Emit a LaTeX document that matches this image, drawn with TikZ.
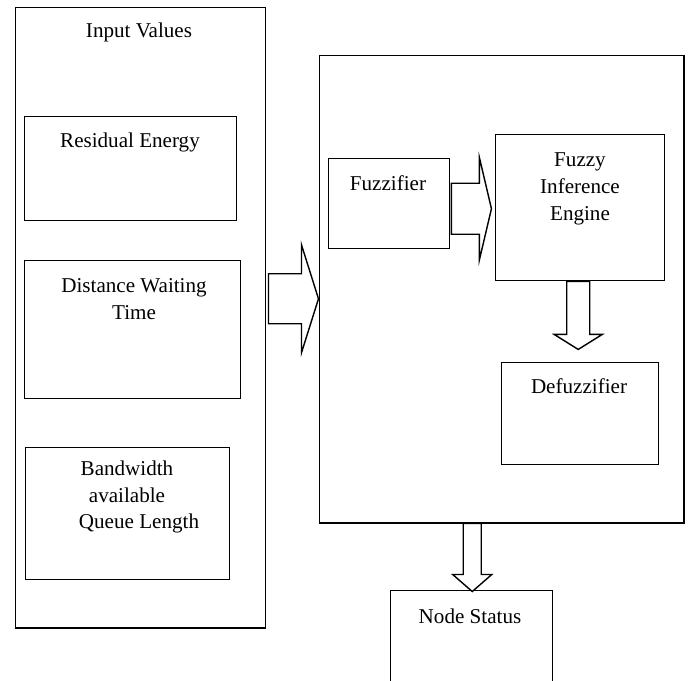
\documentclass[tikz,border=0pt]{standalone}
\usepackage{fontspec}
\setmainfont{Liberation Serif}
\usetikzlibrary{calc}
\tikzstyle{box}=[draw,line width=1pt,inner sep=0pt,anchor=north west]
\tikzstyle{lbl}=[align=center,inner sep=0pt,font=\fontsize{15}{19}\selectfont]
\tikzstyle{fat}=[draw,line width=1pt,fill=white,line join=miter]

\begin{document}
\begin{tikzpicture}[x=0.025cm,y=-0.025cm]
        \clip (0,0) rectangle (688,681);
        % input values
        \node[box,minimum width=6.25cm,minimum height=15.5cm] (inp) at (15,7) {};
        \node[box,minimum width=5.3cm,minimum height=2.6cm] (res) at (24,116) {};
        \node[box,minimum width=5.4cm,minimum height=3.45cm] (dist) at (24,260) {};
        \node[box,minimum width=5.1cm,minimum height=3.3cm] (band) at (25,447) {};
        \node[lbl] (inpT) at (139,32) {Input Values};
        \node[lbl] (resT) at (130,142) {Residual Energy};
        \node[lbl] (distT) at (134,299) {Distance Waiting\\Time};
        \node[lbl] (bandT) at (127,497) {Bandwidth\\available\\\hspace*{0.6cm}Queue Length};
        % fuzzy system
        \node[box,minimum width=9.1cm,minimum height=11.675cm] (fis) at (319,55) {};
        \node[box,minimum width=3.025cm,minimum height=2.25cm] (fuzz) at (328,158) {};
        \node[box,minimum width=4.225cm,minimum height=3.65cm] (fie) at (495,134) {};
        \node[box,minimum width=3.925cm,minimum height=2.55cm] (defz) at (501,362) {};
        \node[lbl] (fuzzT) at (388,183) {Fuzzifier};
        \node[lbl] (fieT) at (580,189) {Fuzzy\\Inference\\Engine};
        \node[lbl] (defzT) at (579,386) {Defuzzifier};
        % output
        \node[box,minimum width=4.05cm,minimum height=2.5cm] (stat) at (390,590) {};
        \node[lbl] (statT) at (470,616) {Node Status};
        % block arrows
        \coordinate (a1) at ($(inp.east)+(2,-19)$);
        \coordinate (a2) at ($(fuzz.east)+(1,5)$);
        \coordinate (a3) at ($(fie.south)+(-2,0)$);
        \coordinate (a4) at ($(fis.south)+(-29.5,0)$);
        \draw[fat] (a1) +(0,-25) -- +(33,-25) -- +(33,-54) -- +(50,0) -- +(33,54) -- +(33,25) -- +(0,25) -- cycle;
        \draw[fat] (a2) +(0,-25.5) -- +(28,-25.5) -- +(28,-51) -- +(40,0) -- +(28,51) -- +(28,25.5) -- +(0,25.5) -- cycle;
        \draw[fat] (a3) +(-11.5,0) -- +(-11.5,53) -- +(-24,53) -- +(0,68) -- +(24,53) -- +(11.5,53) -- +(11.5,0) -- cycle;
        \draw[fat] (a4) +(-9,0) -- +(-9,51) -- +(-19.5,51) -- +(0,68) -- +(19.5,51) -- +(9,51) -- +(9,0) -- cycle;
      \end{tikzpicture}
\end{document}
